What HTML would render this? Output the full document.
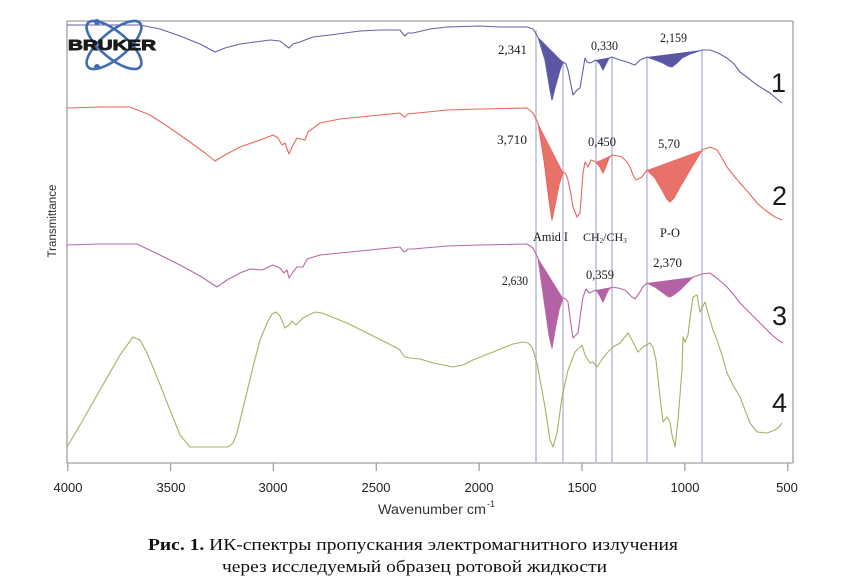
<!DOCTYPE html>
<html><head><meta charset="utf-8"><style>
html,body{margin:0;padding:0;background:#fff;}
svg{display:block;}
</style></head><body>
<svg width="862" height="581" viewBox="0 0 862 581" xmlns="http://www.w3.org/2000/svg">
<rect width="862" height="581" fill="#fff"/>
<!-- frame -->
<g stroke="#a0a0a0" stroke-width="1.3" fill="none">
<line x1="67" y1="21" x2="793" y2="21"/>
<line x1="793" y1="21" x2="793" y2="463"/>
<line x1="67" y1="21" x2="67" y2="463"/>
<line x1="67" y1="463" x2="793" y2="463"/>
<line x1="67.7" y1="463" x2="67.7" y2="471"/>
<line x1="170.6" y1="463" x2="170.6" y2="471"/>
<line x1="273.4" y1="463" x2="273.4" y2="471"/>
<line x1="376.3" y1="463" x2="376.3" y2="471"/>
<line x1="479.1" y1="463" x2="479.1" y2="471"/>
<line x1="582" y1="463" x2="582" y2="471"/>
<line x1="684.9" y1="463" x2="684.9" y2="471"/>
<line x1="787.7" y1="463" x2="787.7" y2="471"/>
</g>
<!-- vertical guide lines -->
<g stroke="#bcbcdc" stroke-width="1.5">
<line x1="536" y1="30" x2="536" y2="463"/>
<line x1="563" y1="62" x2="563" y2="463"/>
<line x1="596" y1="60" x2="596" y2="463"/>
<line x1="612" y1="57" x2="612" y2="463"/>
<line x1="647" y1="57" x2="647" y2="463"/>
<line x1="702" y1="50" x2="702" y2="463"/>
</g>
<!-- BRUKER logo -->
<g fill="none" stroke="#3f6cb4" stroke-width="2.6">
<ellipse cx="114" cy="45" rx="34" ry="13" transform="rotate(40 114 45)"/>
<ellipse cx="114" cy="45" rx="34" ry="13" transform="rotate(-40 114 45)"/>
</g>
<circle cx="97" cy="22" r="3" fill="#3f6cb4"/>
<circle cx="97" cy="67" r="3" fill="#3f6cb4"/>
<text x="68" y="50" font-family="Liberation Sans, sans-serif" font-weight="bold" font-size="15" textLength="88" lengthAdjust="spacingAndGlyphs" fill="#1a1a1a" stroke="#1a1a1a" stroke-width="0.9">BRUKER</text>
<!-- fills -->
<g fill="#5a55a5">
<polygon points="538,37 545,60 550,90 552,100 555,88 560,70 563,62"/>
<polygon points="596,60 600,64 603,70 606,64 609,58 612,57"/>
<polygon points="647,57 655,60 663,63 668,66 672,67 677,63 682,58 690,54 702,50"/>
</g>
<g fill="#e8726a">
<polygon points="538,123 544,160 549,200 552,220 555,205 559,185 563,172"/>
<polygon points="596,162 600,167 603,173 606,166 609,158 612,155"/>
<polygon points="647,170 655,178 662,190 667,199 670,202 674,198 680,187 690,170 702,150"/>
</g>
<g fill="#b462a6">
<polygon points="538,258 544,300 549,335 552,348 555,330 559,310 563,298"/>
<polygon points="596,290 600,296 603,302 606,295 609,289 612,287"/>
<polygon points="647,283 655,287 662,292 667,296 670,297 675,294 680,290 687,283 693,277"/>
</g>
<!-- curves -->
<g fill="none" stroke-width="1.1" stroke-linejoin="round">
<polyline stroke="#6262aa" points="67,25 100,25 140,25 160,29 180,36 200,44 215,52 225,48 240,44 255,42 270,40 280,41 285,45 289,48 293,44 300,42 305,40 313,37 330,35 360,31 380,30 400,30 403,34 405,36 408,33 413,33 430,29 447,27 480,26 500,27 527,27 533,29 538,37 545,60 550,90 552,100 555,88 560,70 563,62 566,64 568,70 571,85 573,95 577,90 580,88 583,70 585,58 587,62 590,63 596,60 600,64 603,70 606,64 609,58 612,57 620,60 627,62 632,64 635,65 640,60 647,57 655,60 663,63 668,66 672,67 677,63 682,58 690,54 702,50 710,50 718,53 727,58 734,64 740,72 748,78 757,85 765,90 770,93 777,99 782,103"/>
<polyline stroke="#e8685c" points="67,108 100,107 130,107 150,115 170,128 190,142 205,153 215,161 225,155 240,147 260,140 273,135 278,138 282,145 285,143 289,154 293,145 297,138 305,140 308,132 320,123 340,119 360,117 380,115 400,113 403,116 405,117 408,114 447,110 480,109 527,108 533,113 538,123 544,160 549,200 552,220 555,205 559,185 563,172 566,174 568,180 571,195 573,207 577,217 580,213 583,173 585,162 588,167 591,160 596,162 600,167 603,173 606,166 609,158 612,155 618,156 622,157 627,162 630,167 633,175 636,180 642,177 647,170 655,178 662,190 667,199 670,202 674,198 680,187 690,170 702,150 710,147 717,150 722,158 727,167 734,176 740,183 748,192 757,203 765,210 775,217 782,220"/>
<polyline stroke="#b868a8" points="67,245 100,244 137,244 160,255 180,265 200,276 217,287 227,280 240,273 250,269 262,270 273,265 280,268 284,273 287,270 289,278 293,272 297,267 303,267 307,259 320,255 340,253 370,250 400,247 403,251 405,252 408,249 413,249 447,246 480,245 527,244 533,248 538,258 544,300 549,335 552,348 555,330 559,310 563,298 566,299 568,302 571,325 573,338 578,333 581,310 583,297 586,289 589,293 596,290 600,296 603,302 606,295 609,289 612,287 618,288 625,290 632,297 635,299 640,292 642,288 647,283 655,287 662,292 667,296 670,297 675,294 680,290 687,283 693,277 702,274 710,273 718,279 727,287 734,295 740,303 748,311 757,320 765,328 772,335 778,340 783,343"/>
<polyline stroke="#a8b060" points="67,447 80,425 100,390 120,355 133,337 140,340 147,353 157,377 170,410 180,435 190,447 228,447 233,443 237,433 245,400 253,367 260,340 267,323 272,314 276,312 280,316 285,328 289,325 292,321 296,325 300,321 303,318 309,315 315,312 322,313 327,315 337,319 347,323 357,328 367,333 377,338 387,343 395,347 400,350 403,355 405,357 410,358 420,359 433,363 443,365 453,367 463,365 473,360 483,356 493,352 503,348 513,344 523,342 528,343 532,347 537,363 541,385 545,407 550,440 553,447 557,433 562,397 568,370 575,352 582,345 585,355 590,363 593,362 597,367 603,358 608,352 613,347 620,343 625,337 628,333 633,342 638,352 643,347 650,343 653,347 656,360 660,397 663,422 667,417 670,422 672,435 675,447 678,420 680,395 682,370 683,337 685,342 688,335 690,318 693,297 697,295 700,312 705,302 710,320 713,330 717,340 722,355 727,373 733,385 740,397 745,410 750,423 757,432 767,433 775,430 779,427 782,423"/>
</g>
<!-- annotations -->
<g font-family="Liberation Serif, serif" font-size="13" fill="#1a1a1a">
<text x="498" y="54" textLength="29" lengthAdjust="spacingAndGlyphs">2,341</text>
<text x="591" y="50" textLength="27" lengthAdjust="spacingAndGlyphs">0,330</text>
<text x="660" y="42" textLength="27" lengthAdjust="spacingAndGlyphs">2,159</text>
<text x="497" y="144" textLength="30" lengthAdjust="spacingAndGlyphs">3,710</text>
<text x="588" y="146" textLength="28" lengthAdjust="spacingAndGlyphs">0,450</text>
<text x="658" y="148" textLength="22" lengthAdjust="spacingAndGlyphs">5,70</text>
<text x="533" y="241" textLength="35" lengthAdjust="spacingAndGlyphs">Amid I</text>
<text x="583" y="241" font-size="12">CH<tspan font-size="7" dy="2">2</tspan><tspan dy="-2">/CH</tspan><tspan font-size="7" dy="2">3</tspan></text>
<text x="660" y="237" textLength="20" lengthAdjust="spacingAndGlyphs">P-O</text>
<text x="502" y="285" textLength="26" lengthAdjust="spacingAndGlyphs">2,630</text>
<text x="586" y="279" textLength="28" lengthAdjust="spacingAndGlyphs">0,359</text>
<text x="653" y="267" textLength="29" lengthAdjust="spacingAndGlyphs">2,370</text>
</g>
<!-- curve numbers -->
<g font-family="Liberation Sans, sans-serif" font-size="27" fill="#1a1a1a">
<text x="771" y="92">1</text>
<text x="772" y="205">2</text>
<text x="772" y="325">3</text>
<text x="772" y="412">4</text>
</g>
<!-- axis labels -->
<g font-family="Liberation Sans, sans-serif" font-size="13" fill="#222" text-anchor="middle">
<text x="68" y="492">4000</text>
<text x="171" y="492">3500</text>
<text x="273" y="492">3000</text>
<text x="376" y="492">2500</text>
<text x="479" y="492">2000</text>
<text x="582" y="492">1500</text>
<text x="685" y="492">1000</text>
<text x="787" y="492">500</text>
</g>
<text x="378" y="514" font-family="Liberation Sans, sans-serif" font-size="13.5" fill="#333" textLength="108" lengthAdjust="spacingAndGlyphs">Wavenumber cm</text>
<text x="487" y="507" font-family="Liberation Sans, sans-serif" font-size="9" fill="#333">-1</text>
<text transform="translate(56,221) rotate(-90)" text-anchor="middle" font-family="Liberation Sans, sans-serif" font-size="11.5" fill="#333" textLength="73" lengthAdjust="spacingAndGlyphs">Transmittance</text>
<!-- caption -->
<text x="148" y="550" font-family="Liberation Serif, 'Noto Serif CJK SC', serif" font-size="17" fill="#111" textLength="530" lengthAdjust="spacingAndGlyphs"><tspan font-weight="bold">Рис. 1.</tspan> ИК-спектры пропускания электромагнитного излучения</text>
<text x="222" y="572" font-family="Liberation Serif, 'Noto Serif CJK SC', serif" font-size="17" fill="#111" textLength="385" lengthAdjust="spacingAndGlyphs">через исследуемый образец ротовой жидкости</text>
</svg>
</body></html>
